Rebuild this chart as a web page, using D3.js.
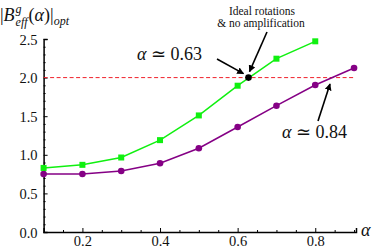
<!DOCTYPE html>
<html>
<head>
<meta charset="utf-8">
<script src="https://cdn.jsdelivr.net/npm/d3@7"></script>
<style>
  body { margin: 0; background: #fff; }
  text { font-family: "DejaVu Serif", "Liberation Serif", serif; }
</style>
</head>
<body>
<script>
// data
var alphas = [0.1, 0.2, 0.3, 0.4, 0.5, 0.6, 0.7, 0.8];
var greenVals = [0.83, 0.87, 0.965, 1.19, 1.51, 1.895, 2.245, 2.47];
var alphasPurple = [0.1, 0.2, 0.3, 0.4, 0.5, 0.6, 0.7, 0.8, 0.9];
var purpleVals = [0.75, 0.752, 0.79, 0.89, 1.085, 1.36, 1.636, 1.904, 2.124];
var xTicks = [0.2, 0.4, 0.6, 0.8];
var yTicks = [0.0, 0.5, 1.0, 1.5, 2.0, 2.5];
var threshold = 2.0;
var crossA = 0.628;

var svgWidth = 374, svgHeight = 248;

var svg = d3.select("body").append("svg")
    .attr("width", svgWidth)
    .attr("height", svgHeight);

var x = d3.scaleLinear().domain([0.1, 0.905]).range([43.6, 356]);
var y = d3.scaleLinear().domain([0, 2.5]).range([232, 39]);

var font = "'Liberation Serif', 'DejaVu Serif', serif";

// axes
var xAxis = d3.axisBottom(x).tickValues(xTicks).tickSize(-4).tickPadding(4)
    .tickFormat(d3.format(".1f"));
var gx = svg.append("g").attr("transform", "translate(0,232)").call(xAxis);
svg.append("g").attr("transform", "translate(0,232)")
    .call(d3.axisBottom(x).tickValues(d3.range(0.15, 0.91, 0.05).filter(function (v) {
        return Math.abs(v * 5 - Math.round(v * 5)) > 0.01;
    })).tickSize(-2).tickFormat(""))
    .select(".domain").remove();

var yAxis = d3.axisLeft(y).tickValues(yTicks).tickSize(-4).tickPadding(6)
    .tickFormat(d3.format(".1f"));
var gy = svg.append("g").attr("transform", "translate(43.6,0)").call(yAxis);
svg.append("g").attr("transform", "translate(43.6,0)")
    .call(d3.axisLeft(y).tickValues(d3.range(0.1, 2.5, 0.1).filter(function (v) {
        return Math.abs(v * 2 - Math.round(v * 2)) > 0.01;
    })).tickSize(-2).tickFormat(""))
    .select(".domain").remove();

svg.selectAll(".domain").attr("stroke", "#000").attr("stroke-width", 1.5);
svg.selectAll(".tick line").attr("stroke", "#000").attr("stroke-width", 1);
svg.selectAll(".tick text").attr("fill", "#111")
    .style("font-family", font).style("font-size", "14.5px");
gy.selectAll(".tick text").attr("dy", "0.35em");

// threshold line
svg.append("line")
    .attr("x1", x(0.1)).attr("x2", x(0.9))
    .attr("y1", y(threshold)).attr("y2", y(threshold))
    .attr("stroke", "#f0202a").attr("stroke-width", 1)
    .attr("stroke-dasharray", "4,2.5");

// series
var green = alphas.map(function (a, i) { return [a, greenVals[i]]; });
var purple = alphasPurple.map(function (a, i) { return [a, purpleVals[i]]; });
var line = d3.line().x(function (d) { return x(d[0]); }).y(function (d) { return y(d[1]); });

svg.append("path").datum(purple).attr("d", line)
    .attr("fill", "none").attr("stroke", "#850085").attr("stroke-width", 1.5);
svg.selectAll(".pdot").data(purple).enter().append("circle")
    .attr("cx", function (d) { return x(d[0]); })
    .attr("cy", function (d) { return y(d[1]); })
    .attr("r", 3.3).attr("fill", "#850085");

svg.append("path").datum(green).attr("d", line)
    .attr("fill", "none").attr("stroke", "#10f010").attr("stroke-width", 1.5);
svg.selectAll(".gsq").data(green).enter().append("rect")
    .attr("x", function (d) { return x(d[0]) - 3; })
    .attr("y", function (d) { return y(d[1]) - 3; })
    .attr("width", 6).attr("height", 6).attr("fill", "#10f010");

// crossing point
svg.append("circle").attr("cx", x(crossA)).attr("cy", y(threshold))
    .attr("r", 3.3).attr("fill", "#000");

// arrows
var defs = svg.append("defs");
defs.append("marker").attr("id", "arr")
    .attr("viewBox", "0 0 10 10").attr("refX", 9).attr("refY", 5)
    .attr("markerWidth", 7).attr("markerHeight", 7).attr("orient", "auto")
    .attr("markerUnits", "userSpaceOnUse")
    .append("path").attr("d", "M0,0 L10,5 L0,10 z").attr("fill", "#000");

function arrow(x1, y1, x2, y2) {
    svg.append("line").attr("x1", x1).attr("y1", y1).attr("x2", x2).attr("y2", y2)
        .attr("stroke", "#000").attr("stroke-width", 1.6)
        .attr("marker-end", "url(#arr)");
}
arrow(217, 59, x(crossA) - 5, y(threshold) - 4);
arrow(267, 32, x(crossA) + 1, y(threshold) - 6);
arrow(318, 121, 330, 84);

// annotation texts
function label(tx, ty, size, parts) {
    var t = svg.append("text").attr("x", tx).attr("y", ty)
        .style("font-family", font).style("font-size", size + "px").attr("fill", "#111");
    parts.forEach(function (p) {
        t.append("tspan").text(p[0]).style("font-style", p[1] ? "italic" : "normal");
    });
    return t;
}
label(137, 60, 18, [["\u03b1", true], [" \u2243 0.63", false]]);
label(282, 138, 18, [["\u03b1", true], [" \u2243 0.84", false]]);
label(262, 15, 11.5, [["Ideal rotations", false]]).attr("text-anchor", "middle");
label(261, 27, 11.5, [["& no amplification", false]]).attr("text-anchor", "middle");

// axis titles
label(361, 236, 18, [["\u03b1", true]]);
var yl = svg.append("text").attr("x", 0).attr("y", 21)
    .style("font-family", font).style("font-size", "18px").attr("fill", "#111");
yl.append("tspan").text("|");
yl.append("tspan").text("B").style("font-style", "italic");
yl.append("tspan").text("g").style("font-style", "italic").style("font-size", "12px").attr("dy", -8).attr("dx", 1);
yl.append("tspan").text("eff").style("font-style", "italic").style("font-size", "12px").attr("dy", 13).attr("dx", -6);
yl.append("tspan").text("(").attr("dy", -5).attr("dx", 1);
yl.append("tspan").text("\u03b1").style("font-style", "italic");
yl.append("tspan").text(")|");
yl.append("tspan").text("opt").style("font-style", "italic").style("font-size", "12px").attr("dy", 4);
</script>
</body>
</html>
